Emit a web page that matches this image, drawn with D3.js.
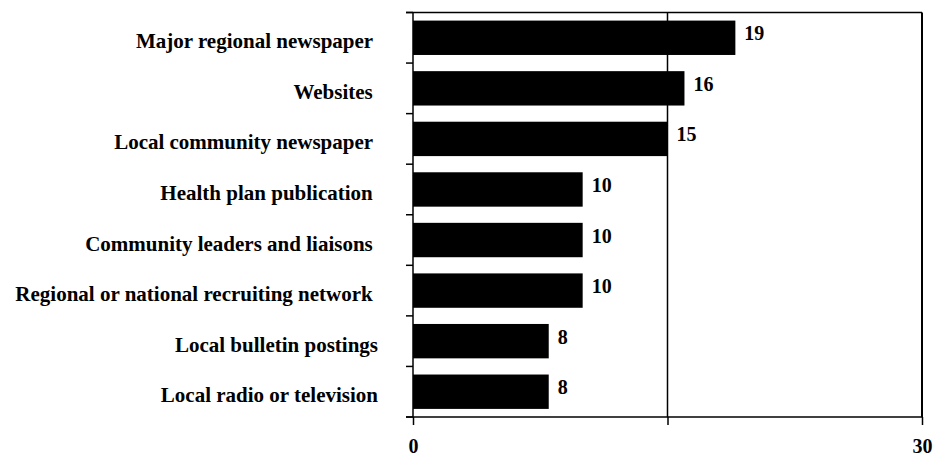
<!DOCTYPE html>
<html>
<head>
<meta charset="utf-8">
<script src="https://cdn.jsdelivr.net/npm/d3@7"></script>
<style>
  html, body { margin: 0; padding: 0; background: #fff; }
  svg { display: block; }
  text { font-family: "Liberation Serif", "Times New Roman", serif; font-weight: bold; fill: #000; white-space: pre; }
</style>
</head>
<body>
<svg id="chart" width="937" height="458"></svg>
<script>
// Recruitment channels (count of respondents)
const categories = [
  "Major regional newspaper ",
  "Websites ",
  "Local community newspaper ",
  "Health plan publication ",
  "Community leaders and liaisons ",
  "Regional or national recruiting network ",
  "Local bulletin postings",
  "Local radio or television"
];
const values = [19, 16, 15, 10, 10, 10, 8, 8];
const xTicks = [0, 15, 30];
const xTickLabels = ["0", "", "30"];

(function draw() {
  const svg = d3.select("#chart");
  const plotLeft = 413, plotRight = 922, plotTop = 12.5, plotBottom = 417;

  const x = d3.scaleLinear().domain([0, 30]).range([plotLeft, plotRight]);
  const y = d3.scaleBand().domain(categories).range([plotTop, plotBottom])
    .paddingInner(0.32).paddingOuter(0.16);
  const gap = y.step() * y.paddingInner();

  // Plot frame: top edge, right edge, gridline at mid value
  svg.append("line").attr("x1", plotLeft - 7).attr("x2", plotRight).attr("y1", plotTop).attr("y2", plotTop)
    .attr("stroke", "#000").attr("stroke-width", 1.5);
  svg.append("line").attr("x1", plotRight).attr("x2", plotRight).attr("y1", plotTop).attr("y2", plotBottom)
    .attr("stroke", "#000").attr("stroke-width", 2);
  svg.selectAll("line.grid").data(xTicks.filter(t => t > 0 && t < 30)).join("line")
    .attr("class", "grid")
    .attr("x1", d => x(d)).attr("x2", d => x(d))
    .attr("y1", plotTop).attr("y2", plotBottom)
    .attr("stroke", "#000").attr("stroke-width", 1.5);

  // Bars
  svg.selectAll("rect.bar").data(categories).join("rect")
    .attr("class", "bar")
    .attr("x", x(0))
    .attr("y", d => y(d))
    .attr("width", (d, i) => x(values[i]) - x(0))
    .attr("height", y.bandwidth())
    .attr("fill", "#000");

  // Value labels
  svg.selectAll("text.val").data(categories).join("text")
    .attr("class", "val")
    .attr("x", (d, i) => x(values[i]) + 9)
    .attr("y", d => y(d) + y.bandwidth() / 2 + 2.5)
    .attr("font-size", 20)
    .text((d, i) => values[i]);

  // Left axis with ticks on category boundaries
  svg.append("line").attr("x1", plotLeft).attr("x2", plotLeft).attr("y1", plotTop).attr("y2", plotBottom)
    .attr("stroke", "#000").attr("stroke-width", 1.5);
  const bounds = categories.map(c => y(c) - gap / 2).concat([plotBottom]);
  svg.selectAll("line.ytick").data(bounds).join("line")
    .attr("class", "ytick")
    .attr("x1", plotLeft - 7).attr("x2", plotLeft)
    .attr("y1", d => d).attr("y2", d => d)
    .attr("stroke", "#000").attr("stroke-width", 1.5);

  // Category labels
  svg.selectAll("text.cat").data(categories).join("text")
    .attr("class", "cat")
    .attr("x", 378)
    .attr("y", d => y(d) + y.bandwidth() / 2 + 10.5)
    .attr("text-anchor", "end")
    .attr("font-size", 21)
    .text(d => d);

  // Bottom axis
  const xAxis = d3.axisBottom(x).tickValues(xTicks)
    .tickFormat((d, i) => xTickLabels[i]).tickSize(8).tickSizeOuter(0);
  const gx = svg.append("g").attr("transform", `translate(0,${plotBottom})`).call(xAxis);
  gx.select(".domain").attr("d", `M${plotLeft - 7},0H${plotRight}`).attr("stroke", "#000").attr("stroke-width", 1.5);
  gx.selectAll(".tick line").attr("stroke", "#000").attr("stroke-width", 1.5);
  gx.attr("font-family", null).attr("font-size", 20);
  gx.selectAll(".tick text")
    .attr("y", 36).attr("dy", null)
    .attr("fill", "#000");
})();
</script>
</body>
</html>
